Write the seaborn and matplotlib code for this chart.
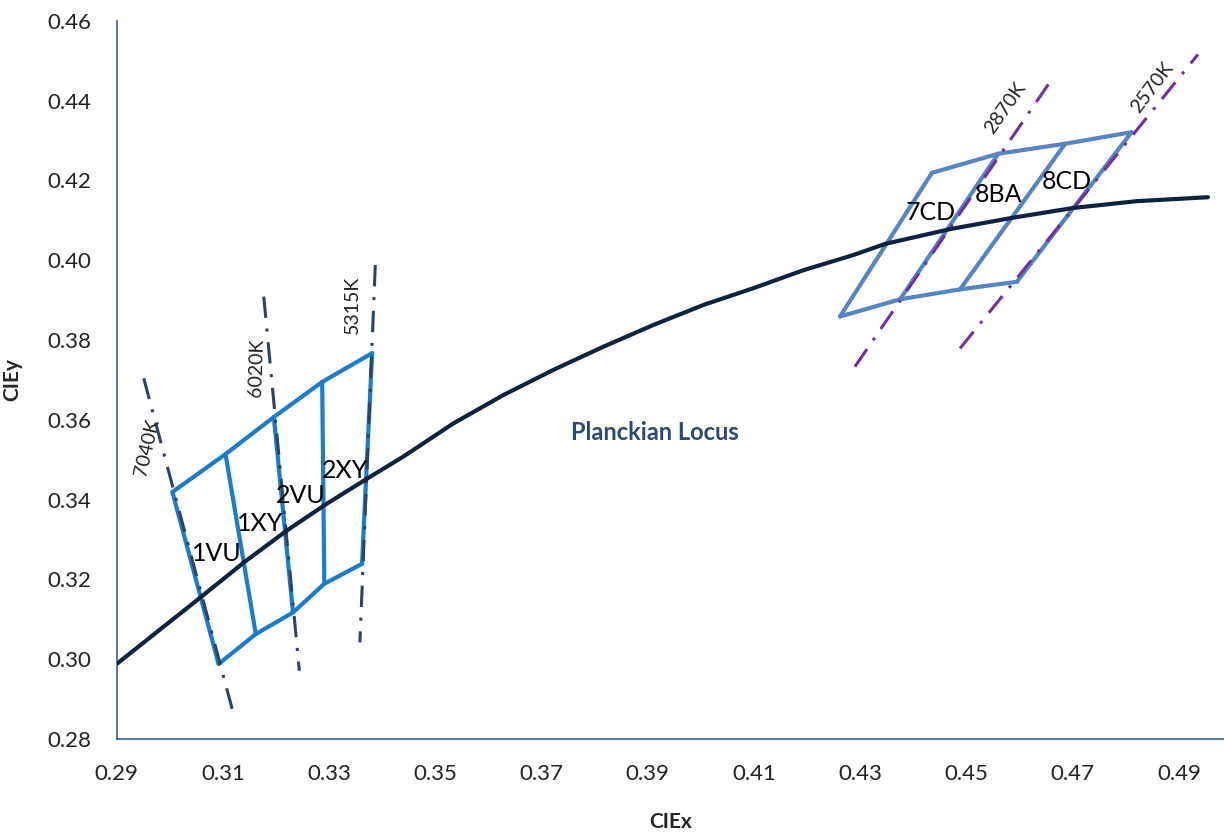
import pandas as pd
import matplotlib.pyplot as plt
import seaborn as sns

# ---------------- data ----------------
planck_x = [0.2900, 0.3058, 0.3140, 0.3221, 0.3296, 0.3377, 0.3440, 0.3534,
            0.3628, 0.3722, 0.3816, 0.3911, 0.4005, 0.4099, 0.4193, 0.4287,
            0.4347, 0.4469, 0.4585, 0.4701, 0.4820, 0.4955]
planck_y = [0.2988, 0.3155, 0.3243, 0.3323, 0.3390, 0.3457, 0.3508, 0.3591,
            0.3662, 0.3725, 0.3783, 0.3838, 0.3888, 0.3930, 0.3975, 0.4013,
            0.4041, 0.4078, 0.4106, 0.4131, 0.4148, 0.4158]

# left block (1VU, 1XY, 2VU, 2XY): top edge and bottom edge corners
left_top_x = [0.3005, 0.3105, 0.3196, 0.3287, 0.3381]
left_top_y = [0.3419, 0.3514, 0.3607, 0.3695, 0.3767]
left_bot_x = [0.3092, 0.3162, 0.3232, 0.3291, 0.3362]
left_bot_y = [0.2988, 0.3063, 0.3117, 0.3189, 0.3239]

# right block (7CD, 8BA, 8CD)
right_top_x = [0.4435, 0.4560, 0.4686, 0.4811]
right_top_y = [0.4219, 0.4267, 0.4292, 0.4321]
right_bot_x = [0.4262, 0.4375, 0.4488, 0.4595]
right_bot_y = [0.3859, 0.3902, 0.3927, 0.3946]

# CCT isotherms (end points)
iso_left_names = ["7040K", "6020K", "5315K"]
iso_left_x = [(0.2951, 0.3121), (0.3177, 0.3244), (0.3387, 0.3358)]
iso_left_y = [(0.3704, 0.2858), (0.3909, 0.2971), (0.3988, 0.3042)]
iso_right_names = ["2870K", "2570K"]
iso_right_x = [(0.4290, 0.4660), (0.4488, 0.4936)]
iso_right_y = [(0.3733, 0.4452), (0.3779, 0.4516)]

# label positions
iso_label_x = [0.2958, 0.3163, 0.3344, 0.4573, 0.4849]
iso_label_y = [0.3531, 0.3730, 0.3888, 0.4382, 0.4432]
iso_label_rot = [77, 88, 90, 55, 53]

bin_names = ["1VU", "1XY", "2VU", "2XY", "7CD", "8BA", "8CD"]
bin_x = [0.3089, 0.3171, 0.3246, 0.3331, 0.4432, 0.4560, 0.4689]
bin_y = [0.3264, 0.3339, 0.3411, 0.3473, 0.4120, 0.4164, 0.4198]

# ---------------- styling ----------------
sns.set_style("white")
plt.rcParams["font.family"] = ["Lato", "DejaVu Sans"]

LEFT_BLUE = "#1a7ccc"
RIGHT_BLUE = "#5585c2"
NAVY = "#0f2340"
ISO_DARK = "#2b4466"
PURPLE = "#7030a0"
AXIS = "#3d5f91"
DASHDOT = (0, (7, 3.5, 1, 3.5))

fig = plt.figure(figsize=(12.24, 8.35), dpi=100)
ax = fig.add_axes([0.0953, 0.115, 0.9047, 0.86])


def segs(top_x, top_y, bot_x, bot_y):
    # outline plus the inner dividers, one unit per segment
    rows = []
    k = 0
    for xs, ys in [(top_x, top_y), (bot_x, bot_y)]:
        for x, y in zip(xs, ys):
            rows.append((k, x, y))
        k += 1
    for tx, ty, bx, by in zip(top_x, top_y, bot_x, bot_y):
        rows.append((k, tx, ty))
        rows.append((k, bx, by))
        k += 1
    return pd.DataFrame(rows, columns=["seg", "x", "y"])


left_df = segs(left_top_x, left_top_y, left_bot_x, left_bot_y)
right_df = segs(right_top_x, right_top_y, right_bot_x, right_bot_y)

sns.lineplot(data=left_df, x="x", y="y", units="seg", estimator=None,
             sort=False, color=LEFT_BLUE, linewidth=3.0, ax=ax, zorder=2)
sns.lineplot(data=right_df, x="x", y="y", units="seg", estimator=None,
             sort=False, color=RIGHT_BLUE, linewidth=3.0, ax=ax, zorder=2)

# isotherms
for xs, ys in zip(iso_left_x, iso_left_y):
    sns.lineplot(x=list(xs), y=list(ys), sort=False, estimator=None,
                 color=ISO_DARK, linewidth=2.2, linestyle=DASHDOT,
                 ax=ax, zorder=3)
for xs, ys in zip(iso_right_x, iso_right_y):
    sns.lineplot(x=list(xs), y=list(ys), sort=False, estimator=None,
                 color=PURPLE, linewidth=2.2, linestyle=DASHDOT,
                 ax=ax, zorder=3)

# planckian locus
sns.lineplot(x=planck_x, y=planck_y, sort=False, estimator=None,
             color=NAVY, linewidth=3.0, ax=ax, zorder=4)

# labels
for name, x, y, r in zip(iso_left_names + iso_right_names,
                         iso_label_x, iso_label_y, iso_label_rot):
    ax.text(x, y, name, rotation=r, rotation_mode="anchor",
            ha="center", va="center", fontsize=14, color="#222222", zorder=5)

for name, x, y in zip(bin_names, bin_x, bin_y):
    ax.text(x, y, name, ha="center", va="center", fontsize=18,
            color="black", zorder=5)

ax.text(0.3914, 0.3569, "Planckian Locus", ha="center", va="center",
        fontsize=17, fontweight="bold", color="#2c4a70", zorder=5)

# axes
ax.set_xlim(0.29, 0.4985)
ax.set_ylim(0.28, 0.46)
ax.set_xticks([0.29 + 0.02 * i for i in range(11)])
ax.set_yticks([0.28 + 0.02 * i for i in range(10)])
ax.set_xticklabels([f"{0.29 + 0.02 * i:.2f}" for i in range(11)])
ax.set_yticklabels([f"{0.28 + 0.02 * i:.2f}" for i in range(10)])

sns.despine(ax=ax)
for side in ["left", "bottom"]:
    ax.spines[side].set_color(AXIS)
    ax.spines[side].set_linewidth(1.2)
ax.tick_params(axis="both", direction="out", color=AXIS, width=1.2,
               labelsize=16, labelcolor="#222222")
ax.tick_params(axis="x", length=8, pad=10)
ax.tick_params(axis="y", length=6, pad=12)

ax.set_xlabel("CIEx", fontsize=15, fontweight="bold", labelpad=20)
ax.set_ylabel("CIEy", fontsize=15, fontweight="bold", labelpad=18)

fig.savefig("out.png", dpi=100)
